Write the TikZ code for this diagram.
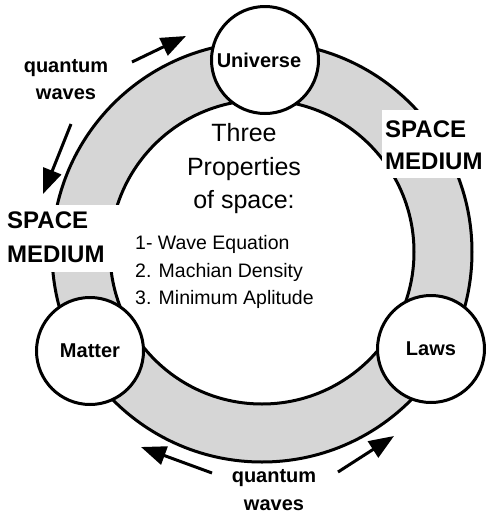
\documentclass[tikz,border=0pt]{standalone}
\usepackage{fontspec}
\setmainfont{Liberation Sans}
\usetikzlibrary{arrows.meta}
\definecolor{ringgray}{RGB}{214,214,214}
\tikzset{
  circ/.style={circle, draw, line width=3pt, fill=white, minimum size=107pt, inner sep=0pt,
    font=\fontsize{20}{24}\selectfont\bfseries},
  wavearrow/.style={line width=3pt, -{Triangle[length=25pt,width=19pt]}},
  wlab/.style={font=\fontsize{20}{24}\selectfont\bfseries, anchor=base, inner sep=0pt},
  splab/.style={font=\fontsize{24}{30}\selectfont\bfseries, anchor=base west, inner sep=0pt},
  title/.style={font=\fontsize{25}{30}\selectfont, anchor=base, inner sep=0pt},
  item/.style={font=\fontsize{19.5}{24}\selectfont, anchor=base west, inner sep=0pt},
  ringline/.style={line width=3pt}
}
\begin{document}
\begin{tikzpicture}[x=1pt,y=-1pt]
\useasboundingbox (0,0) rectangle (487,515);
\coordinate (c) at (262,252);
% ring
\fill[ringgray, even odd rule] (c) circle[radius=210pt] (c) circle[radius=152pt];
\draw[ringline] (c) circle[radius=210pt];
\draw[ringline] (c) circle[radius=152pt];
% white label boxes
\fill[white] (0,205) rectangle (122,272);
\fill[white] (382,110) rectangle (487,178);
% circles
\node[circ] (univ) at (265,60) {Universe\hspace*{12pt}};
\node[circ] (matter) at (90,351) {Matter};
\node[circ] (laws) at (431,349) {Laws};
% space medium labels
\node[splab] (sp1) at (7,228) {SPACE};
\node[splab] (md1) at (7,262) {MEDIUM};
\node[splab] (sp2) at (385,137) {SPACE};
\node[splab] (md2) at (385,169) {MEDIUM};
% center text
\node[title] (t1) at (244,141) {Three};
\node[title] (t2) at (244,175) {Properties};
\node[title] (t3) at (244,208) {of space:};
\node[item] (i1) at (135,249) {1- Wave Equation};
\node[item] (i2) at (135,277) {2. Machian Density};
\node[item] (i3) at (135,304) {3. Minimum Aplitude};
% quantum waves labels
\node[wlab] (q1) at (66,72) {quantum};
\node[wlab] (w1) at (66,99) {waves};
\node[wlab] (q2) at (274,482) {quantum};
\node[wlab] (w2) at (274,510) {waves};
% arrows
\coordinate (a1s) at (132,62);  \coordinate (a1e) at (186,36);
\coordinate (a2s) at (71,124);  \coordinate (a2e) at (43,194);
\coordinate (a3s) at (212,473); \coordinate (a3e) at (141,447);
\coordinate (a4s) at (338,472); \coordinate (a4e) at (394,436);
\draw[wavearrow] (a1s) -- (a1e);
\draw[wavearrow] (a2s) -- (a2e);
\draw[wavearrow] (a3s) -- (a3e);
\draw[wavearrow] (a4s) -- (a4e);
\end{tikzpicture}
\end{document}
